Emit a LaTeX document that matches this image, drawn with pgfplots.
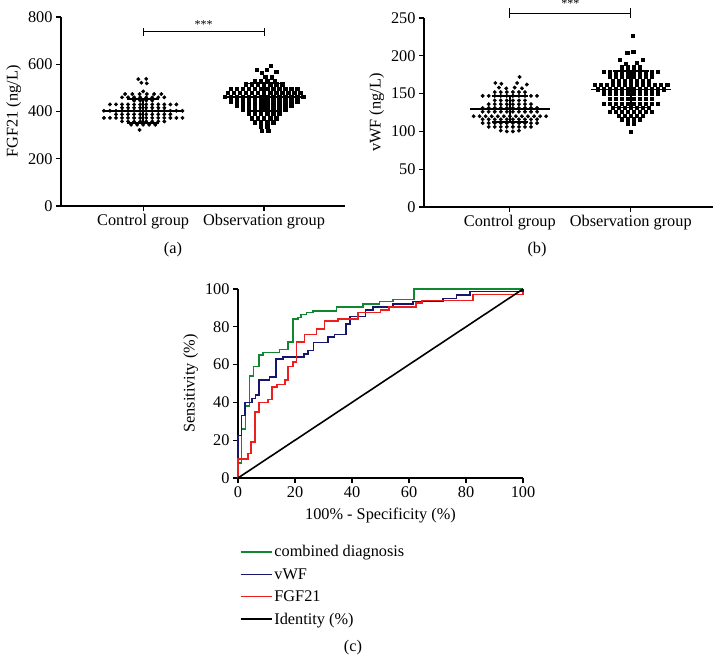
\documentclass[border=0pt]{standalone}
\usepackage{fontspec}
\setmainfont{Liberation Serif}
\usepackage{pgfplots}
\pgfplotsset{compat=1.18}
\definecolor{rocgreen}{RGB}{16,135,48}
\definecolor{rocblue}{RGB}{22,22,110}
\definecolor{rocred}{RGB}{236,30,30}
\pgfplotsset{
  myaxis/.style={
    scale only axis, axis x line=bottom, axis y line=left,
    axis line style={-, line width=1.2pt},
    tick align=outside, major tick length=5pt,
    every tick/.style={line width=1.2pt, black},
    font=\fontsize{16.3}{19}\selectfont,
    /pgf/number format/assume math mode=true,
    clip=false,
  },
  ctrl/.style={only marks, mark=*, mark size=1.75pt, black},
  obsv/.style={only marks, mark=square*, mark size=1.65pt, black},
  stat/.style={black, line width=1.7pt, no marks},
}
\begin{document}
\begin{tikzpicture}
\path[use as bounding box] (0pt,0pt) rectangle (713pt,-656pt);

% ---------------- (a) ----------------
\begin{axis}[myaxis, at={(61pt,-206pt)}, anchor=south west, width=284pt, height=189pt,
  xmin=-0.68, xmax=1.67, ymin=0, ymax=800, ytick={0,200,400,600,800},
  xtick={0,1}, xticklabels={Control group, Observation group},
  ylabel={FGF21 (ng/L)}]
\addplot[ctrl] coordinates {
(-0.04,537) (0.025,538) (-0.015,522) (0.03,519) (0,485)
(-0.15,474) (-0.09,474) (-0.03,474) (0.03,474) (0.09,474) (0.15,474)
(-0.175,460) (-0.125,460) (-0.075,460) (-0.025,460) (0.025,460) (0.075,460) (0.125,460) (0.175,460)
(-0.075,446) (-0.025,446) (0.025,446) (0.075,446)
(-0.275,430) (-0.225,430) (-0.175,430) (-0.125,430) (-0.075,430) (-0.025,430) (0.025,430) (0.075,430) (0.125,430) (0.175,430) (0.225,430) (0.275,430)
(-0.175,416) (-0.125,416) (-0.075,416) (-0.025,416) (0.025,416) (0.075,416) (0.125,416) (0.175,416)
(-0.325,403) (-0.275,403) (-0.225,403) (-0.175,403) (-0.125,403) (-0.075,403) (-0.025,403) (0.025,403) (0.075,403) (0.125,403) (0.175,403) (0.225,403) (0.275,403) (0.325,403)
(-0.225,388) (-0.175,388) (-0.125,388) (-0.075,388) (-0.025,388) (0.025,388) (0.075,388) (0.125,388) (0.175,388) (0.225,388)
(-0.325,373) (-0.275,373) (-0.225,373) (-0.175,373) (-0.125,373) (-0.075,373) (-0.025,373) (0.025,373) (0.075,373) (0.125,373) (0.175,373) (0.225,373) (0.275,373) (0.325,373)
(-0.175,358) (-0.125,358) (-0.075,358) (-0.025,358) (0.025,358) (0.075,358) (0.125,358) (0.175,358)
(-0.1,344) (-0.05,344) (0,344) (0.05,344) (0.1,344)
(-0.03,322)
};
\addplot[obsv] coordinates {
(1.055,594) (0.94,576) (1.02,577) (0.98,565) (1.1,569) (1.01,548) (1.065,545)
(0.925,530) (0.975,530) (1.025,530) (1.09,528)
(0.85,515) (0.9,515) (0.95,515) (1.0,515) (1.05,515) (1.1,515) (1.15,515)
(0.725,498) (0.775,498) (0.825,498) (0.875,498) (0.925,498) (0.975,498) (1.025,498) (1.075,498) (1.125,498) (1.175,498) (1.225,498) (1.275,498)
(0.7,480) (0.75,480) (0.8,480) (0.85,480) (0.9,480) (0.95,480) (1.0,480) (1.05,480) (1.1,480) (1.15,480) (1.2,480) (1.25,480) (1.3,480)
(0.675,462) (0.725,462) (0.775,462) (0.825,462) (0.875,462) (0.925,462) (0.975,462) (1.025,462) (1.075,462) (1.125,462) (1.175,462) (1.225,462) (1.275,462) (1.325,462)
(0.725,444) (0.775,444) (0.825,444) (0.875,444) (0.925,444) (0.975,444) (1.025,444) (1.075,444) (1.125,444) (1.175,444) (1.225,444) (1.275,444)
(0.775,426) (0.825,426) (0.875,426) (0.925,426) (0.975,426) (1.025,426) (1.075,426) (1.125,426) (1.175,426) (1.225,426)
(0.825,408) (0.875,408) (0.925,408) (0.975,408) (1.025,408) (1.075,408) (1.125,408) (1.175,408)
(0.875,390) (0.925,390) (0.975,390) (1.025,390) (1.075,390) (1.125,390)
(0.9,372) (0.95,372) (1.0,372) (1.05,372) (1.1,372)
(0.925,355) (0.975,355) (1.025,355) (1.075,355)
(0.975,338) (1.025,338)
(0.98,320) (1.035,320)
};
\addplot[stat] coordinates {(-0.33,403) (0.33,403)};
\addplot[stat] coordinates {(0,352) (0,452)};
\addplot[stat] coordinates {(-0.13,452) (0.13,452)};
\addplot[stat] coordinates {(-0.13,352) (0.13,352)};
\addplot[stat] coordinates {(0.67,462) (1.33,462)};
\addplot[stat] coordinates {(1,403) (1,519)};
\addplot[stat] coordinates {(0.87,519) (1.13,519)};
\addplot[stat] coordinates {(0.87,403) (1.13,403)};
\draw[line width=0.8pt] (axis cs:0,718) -- (axis cs:0,752);
\draw[line width=0.8pt] (axis cs:1,718) -- (axis cs:1,752);
\draw[line width=0.8pt] (axis cs:0,738) -- (axis cs:1,738);
\node[font=\fontsize{12}{14}\selectfont, anchor=south, inner sep=1pt] at (axis cs:0.5,748) {***};
\end{axis}

% ---------------- (b) ----------------
\begin{axis}[myaxis, at={(424pt,-207pt)}, anchor=south west, width=289pt, height=189pt,
  xmin=-0.71, xmax=1.68, ymin=0, ymax=250, ytick={0,50,100,150,200,250},
  xtick={0,1}, xticklabels={Control group, Observation group},
  ylabel={vWF (ng/L)}]
\addplot[ctrl] coordinates {
(0.08,172)
(-0.12,164) (-0.07,163) (0.06,164) (0.14,162)
(-0.09,158) (-0.03,157) (0.04,158) (0.10,157)
(-0.125,152) (-0.075,152) (-0.025,152) (0.025,152) (0.075,152) (0.125,152)
(-0.225,147) (-0.175,147) (-0.125,147) (-0.075,147) (-0.025,147) (0.025,147) (0.075,147) (0.125,147) (0.175,147) (0.225,147)
(-0.125,141) (-0.075,141) (-0.025,141) (0.025,141) (0.075,141) (0.125,141)
(-0.175,136) (-0.125,136) (-0.075,136) (-0.025,136) (0.025,136) (0.075,136) (0.125,136) (0.175,136)
(-0.225,131) (-0.175,131) (-0.125,131) (-0.075,131) (-0.025,131) (0.025,131) (0.075,131) (0.125,131) (0.175,131) (0.225,131)
(-0.225,126) (-0.175,126) (-0.125,126) (-0.075,126) (-0.025,126) (0.025,126) (0.075,126) (0.125,126) (0.175,126) (0.225,126)
(-0.3,120) (-0.25,120) (-0.2,120) (-0.15,120) (-0.1,120) (-0.05,120) (0,120) (0.05,120) (0.1,120) (0.15,120) (0.2,120) (0.25,120) (0.3,120)
(-0.225,116) (-0.175,116) (-0.125,116) (-0.075,116) (-0.025,116) (0.025,116) (0.075,116) (0.125,116) (0.175,116) (0.225,116)
(-0.225,111) (-0.175,111) (-0.125,111) (-0.075,111) (-0.025,111) (0.025,111) (0.075,111) (0.125,111) (0.175,111) (0.225,111)
(-0.175,106) (-0.125,106) (-0.075,106) (-0.025,106) (0.025,106) (0.075,106) (0.125,106) (0.175,106)
(-0.075,101) (-0.025,100) (0.025,100) (0.075,101)
};
\addplot[obsv] coordinates {
(1.014,227) (0.97,204) (1.02,205) (0.91,195) (1.10,195) (0.96,190) (1.05,191)
(0.925,185) (0.975,185) (1.025,185) (1.075,185)
(0.775,179) (0.825,179) (0.875,179) (0.925,179) (0.975,179) (1.025,179) (1.075,179) (1.125,179) (1.175,179) (1.225,179)
(0.825,173) (0.875,173) (0.925,173) (0.975,173) (1.025,173) (1.075,173) (1.125,173) (1.175,173)
(0.85,167) (0.9,167) (0.95,167) (1.0,167) (1.05,167) (1.1,167) (1.15,167)
(0.7,162) (0.75,162) (0.8,162) (0.85,162) (0.9,162) (0.95,162) (1.0,162) (1.05,162) (1.1,162) (1.15,162) (1.2,162) (1.25,162) (1.3,162)
(0.725,156) (0.775,156) (0.825,156) (0.875,156) (0.925,156) (0.975,156) (1.025,156) (1.075,156) (1.125,156) (1.175,156) (1.225,156) (1.275,156)
(0.775,150) (0.825,150) (0.875,150) (0.925,150) (0.975,150) (1.025,150) (1.075,150) (1.125,150) (1.175,150) (1.225,150)
(0.825,143) (0.875,143) (0.925,143) (0.975,143) (1.025,143) (1.075,143) (1.125,143) (1.175,143)
(0.775,137) (0.825,137) (0.875,137) (0.925,137) (0.975,137) (1.025,137) (1.075,137) (1.125,137) (1.175,137) (1.225,137)
(0.85,131) (0.9,131) (0.95,131) (1.0,131) (1.05,131) (1.1,131) (1.15,131)
(0.825,126) (0.875,126) (0.925,126) (0.975,126) (1.025,126) (1.075,126) (1.125,126) (1.175,126)
(0.9,121) (0.95,121) (1.0,121) (1.05,121) (1.1,121)
(0.925,116) (0.975,116) (1.025,116) (1.075,116)
(0.975,111) (1.025,111)
(1.0,100)
};
\addplot[stat] coordinates {(-0.33,129.5) (0.33,129.5)};
\addplot[stat] coordinates {(0,112) (0,147)};
\addplot[stat] coordinates {(-0.15,147) (0.15,147)};
\addplot[stat] coordinates {(-0.15,112) (0.15,112)};
\addplot[stat] coordinates {(0.67,155.5) (1.33,155.5)};
\addplot[stat] coordinates {(1,131.5) (1,180)};
\addplot[stat] coordinates {(0.85,180) (1.15,180)};
\addplot[stat] coordinates {(0.85,131.5) (1.15,131.5)};
\draw[line width=0.8pt] (axis cs:0,250) -- (axis cs:0,263);
\draw[line width=0.8pt] (axis cs:1,250) -- (axis cs:1,263);
\draw[line width=0.8pt] (axis cs:0,256) -- (axis cs:1,256);
\node[font=\fontsize{12}{14}\selectfont, anchor=south, inner sep=1pt] at (axis cs:0.5,262) {***};
\end{axis}

% ---------------- (c) ----------------
\begin{axis}[myaxis, at={(238pt,-478pt)}, anchor=south west, width=285pt, height=189pt,
  xmin=0, xmax=100, ymin=0, ymax=100, xtick={0,20,...,100}, ytick={0,20,...,100},
  xlabel={100\% - Specificity (\%)}, ylabel={Sensitivity (\%)},
  xlabel style={yshift=-4pt},
  legend cell align=left,
  legend style={draw=none, fill=none, at={(-0.005,-0.335)}, anchor=north west,
    font=\fontsize{16.3}{19}\selectfont, row sep=6pt},
  legend image code/.code={\draw[#1, line width=1.2pt] (0pt,0pt) -- (25pt,0pt); \path (0pt,0pt) -- (31pt,0pt);}]
\addplot[rocgreen, line width=1.6pt, no marks] coordinates {
(0,0) (0,8) (1.2,8) (1.2,26) (2.7,26) (2.7,38) (4.1,38) (4.1,54) (5.5,54) (5.5,59) (7.3,59) (7.3,65) (8.8,65) (8.8,66.5) (14.6,66.5) (14.6,68) (17.5,68) (17.5,72) (19.2,72) (19.2,84) (21,84) (21,85) (22.2,85) (22.2,86.5) (24,86.5) (24,87.5) (26.3,87.5) (26.3,88.5) (34.5,88.5) (34.5,90.5) (43.9,90.5) (43.9,92) (49.7,92) (49.7,93.3) (54.4,93.3) (54.4,94.5) (61.7,94.5) (61.7,100) (100,100)};
\addlegendentry{combined diagnosis}
\addplot[rocblue, line width=1.6pt, no marks] coordinates {
(0,0) (0,22.5) (1.2,22.5) (1.2,33) (2.5,33) (2.5,40) (5,40) (5,42) (6.2,42) (6.2,44) (7.3,44) (7.3,52) (11,52) (11,53.5) (13.3,53.5) (13.3,63) (15.8,63) (15.8,64) (23.2,64) (23.2,65.5) (24.6,65.5) (24.6,67.5) (26.5,67.5) (26.5,71.8) (31.5,71.8) (31.5,74.5) (33.8,74.5) (33.8,76) (37.8,76) (37.8,81.5) (39.4,81.5) (39.4,85.5) (44.8,85.5) (44.8,88.8) (47.4,88.8) (47.4,90.5) (54.4,90.5) (54.4,92) (61.4,92) (61.4,93.3) (72,93.3) (72,95) (76.6,95) (76.6,96.8) (81.3,96.8) (81.3,98.6) (100,98.6) (100,100)};
\addlegendentry{vWF}
\addplot[rocred, line width=1.6pt, no marks] coordinates {
(0,0) (0,10) (3.5,10) (3.5,13) (4.5,13) (4.5,19) (6,19) (6,35) (7.3,35) (7.3,40) (10.6,40) (10.6,41.5) (12,41.5) (12,48) (13.7,48) (13.7,49.5) (16.4,49.5) (16.4,52) (17.5,52) (17.5,59) (19.3,59) (19.3,61.5) (20.5,61.5) (20.5,72) (23.4,72) (23.4,76) (27.5,76) (27.5,78.8) (30.4,78.8) (30.4,83) (35,83) (35,84.2) (42,84.2) (42,87.5) (50,87.5) (50,89) (53,89) (53,90.5) (62.5,90.5) (62.5,92.5) (64.5,92.5) (64.5,94) (82.5,94) (82.5,97) (100,97) (100,98.5)};
\addlegendentry{FGF21}
\addplot[black, line width=1.6pt, no marks] coordinates {(0,0) (100,100)};
\addlegendentry{Identity (\%)}
\end{axis}

\node[font=\fontsize{16.3}{19}\selectfont] at (173pt,-250pt) {(a)};
\node[font=\fontsize{16.3}{19}\selectfont] at (537pt,-250pt) {(b)};
\node[font=\fontsize{16.3}{19}\selectfont] at (353pt,-648pt) {(c)};
\end{tikzpicture}
\end{document}
